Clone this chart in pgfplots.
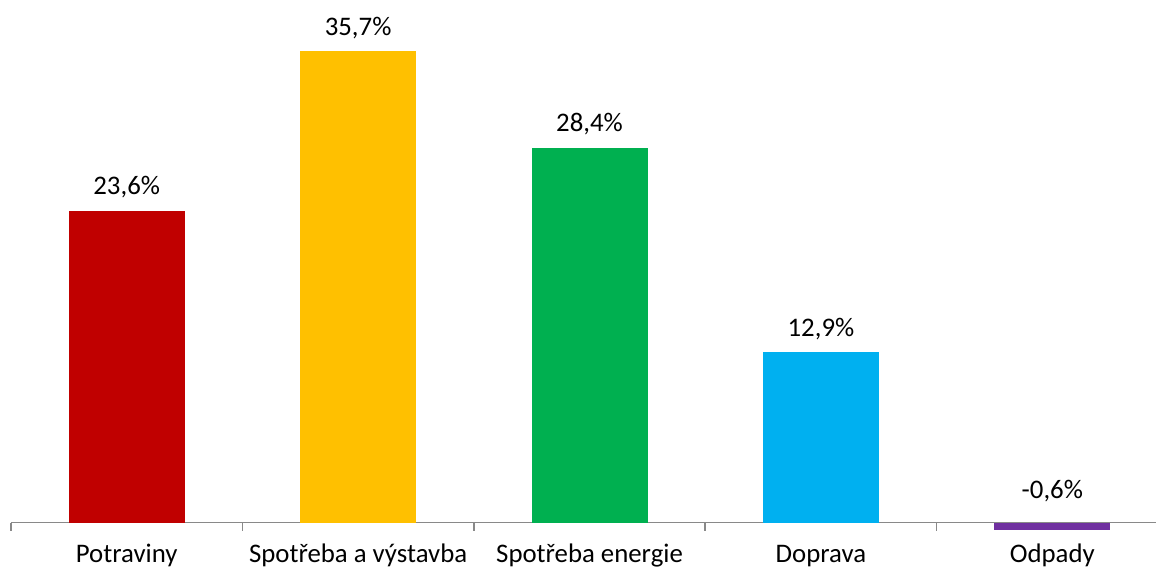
\documentclass[border=0pt]{standalone}
\usepackage{fontspec}
\setmainfont{Carlito}
\usepackage{pgfplots}
\pgfplotsset{compat=1.18}
\definecolor{cRed}{HTML}{C00000}
\definecolor{cYel}{HTML}{FFC000}
\definecolor{cGrn}{HTML}{00B050}
\definecolor{cBlu}{HTML}{00B0F0}
\definecolor{cPur}{HTML}{7030A0}
\definecolor{axisgray}{RGB}{137,137,137}
\begin{document}
\begin{tikzpicture}
\begin{axis}[name=ax, at={(0,0)}, anchor=south west,
  scale only axis, width=1145pt, height=569pt,
  xmin=-0.5, xmax=4.448, ymin=-3.52, ymax=39.58,
  axis x line=middle, axis y line=none,
  x axis line style={-, draw=axisgray, line width=1.5pt},
  xtick={0,1,2,3,4},
  xticklabels={Potraviny, Spotřeba a výstavba, Spotřeba energie, Doprava, Odpady},
  minor xtick={-0.5,0.5,1.5,2.5,3.5},
  major tick length=0pt, minor tick length=8pt, tick align=outside,
  minor tick style={draw=axisgray, line width=1.5pt},
  major tick style={draw=none},
  xticklabel style={anchor=base, yshift=-40pt, font=\fontsize{26.8}{30}\selectfont, text=black},
  ytick=\empty,
  clip=false,
  ybar, bar width=116pt,
  /pgf/number format/assume math mode=true,
  /pgf/number format/use comma,
  /pgf/number format/fixed, /pgf/number format/fixed zerofill, /pgf/number format/precision=1,
  nodes near coords={\pgfmathprintnumber{\pgfplotspointmeta}\%},
  every node near coord/.append style={anchor=base, font=\fontsize{26.8}{30}\selectfont, text=black},
]
\addplot[bar shift=0pt, fill=cRed, draw=none, every node near coord/.append style={yshift=16pt}] coordinates {(0,23.6)};
\addplot[bar shift=0pt, fill=cYel, draw=none, every node near coord/.append style={yshift=16pt}] coordinates {(1,35.7)};
\addplot[bar shift=0pt, fill=cGrn, draw=none, every node near coord/.append style={yshift=16pt}] coordinates {(2,28.4)};
\addplot[bar shift=0pt, fill=cBlu, draw=none, every node near coord/.append style={yshift=16pt}] coordinates {(3,12.9)};
\addplot[bar shift=0pt, fill=cPur, draw=none, every node near coord/.append style={yshift=32pt}] coordinates {(4,-0.6)};
\end{axis}
\pgfresetboundingbox
\path[use as bounding box] ([xshift=-11pt]ax.south west) rectangle (ax.north east);
\end{tikzpicture}
\end{document}
